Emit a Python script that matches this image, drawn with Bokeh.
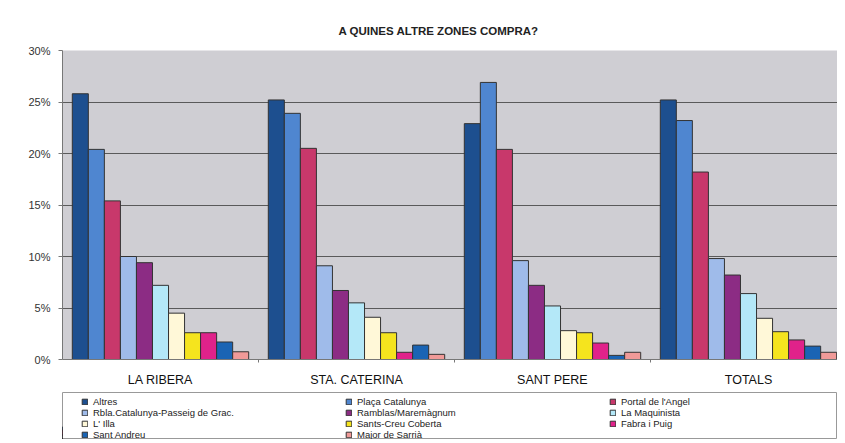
import numpy as np
from bokeh.plotting import figure
from bokeh.layouts import column
from bokeh.models import ColumnDataSource, Legend, LegendItem, FixedTicker, NumeralTickFormatter, Range1d
from bokeh.embed import file_html
from bokeh.resources import INLINE

groups = ["LA RIBERA", "STA. CATERINA", "SANT PERE", "TOTALS"]
zones = ["Altres", "Plaça Catalunya", "Portal de l'Angel",
         "Rbla.Catalunya-Passeig de Grac.", "Ramblas/Maremàgnum", "La Maquinista",
         "L' Illa", "Sants-Creu Coberta", "Fabra i Puig",
         "Sant Andreu", "Major de Sarrià"]
colors = ["#1d4f8f", "#4f86d0", "#c8386b", "#9fbbea", "#8c2c84", "#b4e8f8",
          "#fff8d8", "#f5e41e", "#e0228a", "#1a64b4", "#f09a98"]

la_ribera = [25.8, 20.4, 15.4, 10.0, 9.4, 7.2, 4.5, 2.6, 2.6, 1.7, 0.75]
sta_caterina = [25.2, 23.9, 20.5, 9.1, 6.7, 5.5, 4.1, 2.6, 0.7, 1.4, 0.5]
sant_pere = [22.9, 26.9, 20.4, 9.6, 7.2, 5.2, 2.8, 2.6, 1.6, 0.4, 0.7]
totals = [25.2, 23.2, 18.2, 9.8, 8.2, 6.4, 4.0, 2.7, 1.9, 1.3, 0.7]

values = np.array([la_ribera, sta_caterina, sant_pere, totals]) / 100.0
n = len(zones)
bw = 0.9 / n
centers = np.arange(len(groups)) + 0.5
group_px = 196.0
frame_w = 775

p = figure(frame_width=frame_w, frame_height=309, output_backend="svg", toolbar_location=None,
           x_range=Range1d(0, frame_w / group_px), y_range=Range1d(0, 0.30),
           min_border_left=62, min_border_right=0, min_border_top=50, min_border_bottom=30,
           background_fill_color="#cfced3", border_fill_color="white")
p.outline_line_color = None

p.title.text = "A QUINES ALTRE ZONES COMPRA?"
p.title.align = "left"
p.title.offset = 276
p.title.standoff = 28
p.title.text_font = "Liberation Sans"
p.title.text_font_size = "11.5px"
p.title.text_font_style = "bold"
p.title.text_color = "#222222"

sources = []
for j in range(n):
    src = ColumnDataSource(dict(x=centers + (j - (n - 1) / 2) * bw, top=values[:, j]))
    sources.append(src)
    p.vbar(x="x", top="top", width=bw, source=src, fill_color=colors[j],
           line_color="#333333", line_width=1)

p.xgrid.grid_line_color = None
p.ygrid.grid_line_color = "#5a5a5a"
p.ygrid.grid_line_width = 1
p.yaxis.ticker = FixedTicker(ticks=[0, 0.05, 0.10, 0.15, 0.20, 0.25, 0.30])
p.yaxis.formatter = NumeralTickFormatter(format="0%")
p.yaxis.major_label_text_font = "Liberation Sans"
p.yaxis.major_label_text_font_size = "11px"
p.yaxis.major_label_text_color = "#333333"
p.yaxis.major_label_standoff = 8
p.yaxis.axis_line_color = "#777777"
p.yaxis.major_tick_line_color = "#777777"
p.yaxis.major_tick_out = 4
p.yaxis.major_tick_in = 0
p.yaxis.minor_tick_line_color = None

p.xaxis.ticker = FixedTicker(ticks=list(centers), minor_ticks=[1, 2, 3])
p.xaxis.major_label_overrides = {float(c): g for c, g in zip(centers, groups)}
p.xaxis.major_label_text_font = "Liberation Sans"
p.xaxis.major_label_text_font_size = "12.5px"
p.xaxis.major_label_text_color = "#111111"
p.xaxis.major_label_standoff = 7
p.xaxis.major_tick_line_color = None
p.xaxis.minor_tick_line_color = "#777777"
p.xaxis.minor_tick_out = 3
p.xaxis.minor_tick_in = 0
p.xaxis.axis_line_color = "#777777"

# legend panel
p2 = figure(width=837, height=50, output_backend="svg", toolbar_location=None,
            x_range=Range1d(100, 101), y_range=Range1d(0, 1),
            x_axis_type=None, y_axis_type=None,
            min_border_left=62, min_border_right=0, min_border_top=3, min_border_bottom=0,
            background_fill_color="white", border_fill_color="white")
p2.outline_line_color = "#999999"
p2.grid.grid_line_color = None

items = []
for j, z in enumerate(zones):
    r = p2.vbar(x="x", top="top", width=bw, source=sources[j], fill_color=colors[j],
                line_color="#333333", line_width=1)
    items.append(LegendItem(label=z, renderers=[r]))

ncol = 3
order = [k for c in range(ncol) for k in range(c, len(items), ncol)]
legend = Legend(items=[items[k] for k in order], orientation="vertical", nrows=4,
                label_text_font="Liberation Sans", label_text_font_size="9.5px",
                label_text_color="#222222", label_height=10, label_width=252,
                glyph_width=7, glyph_height=7, label_standoff=5, spacing=0,
                padding=2, margin=0, border_line_color=None,
                background_fill_alpha=0, location=(19, -1))
p2.add_layout(legend, "center")

open("out.html", "w").write(file_html(column(p, p2, spacing=0), INLINE))
